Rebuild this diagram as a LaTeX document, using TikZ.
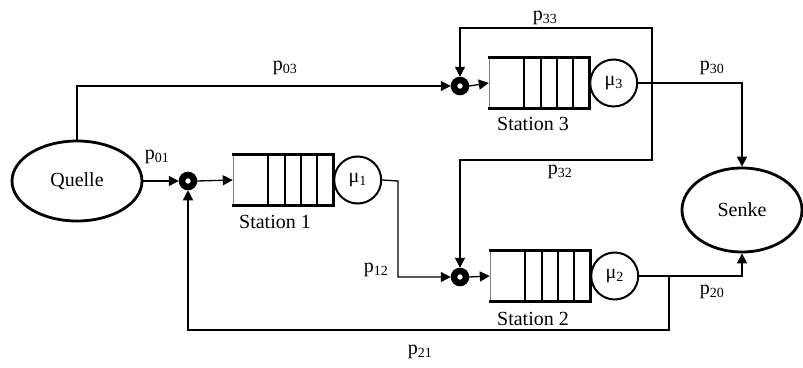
\documentclass[tikz,border=0pt]{standalone}
\usepackage{fontspec}
\setmainfont{Liberation Serif}
\usetikzlibrary{arrows.meta,calc,shapes.geometric}
\begin{document}
\begin{tikzpicture}[x=1pt,y=-1pt,
  every node/.style={font=\fontsize{20}{22}\selectfont},
  con/.style={line width=1.3pt},
  arr/.style={con,-{Triangle[length=10pt,width=10pt]}},
  junc/.style={circle,draw=black,line width=6.5pt,fill=white,minimum size=12pt,inner sep=0pt},
  queue/.style={rectangle,minimum width=100pt,minimum height=50pt,inner sep=0pt},
  server/.style={circle,draw,line width=2pt,minimum size=47pt,inner sep=0pt},
  lbl/.style={inner sep=1pt}
]
\useasboundingbox (0,0) rectangle (803,367);
% sources / sinks
\node[ellipse,draw,line width=2.8pt,minimum width=130pt,minimum height=80pt] (quelle) at (77,181) {Quelle};
\node[ellipse,draw,line width=2.8pt,minimum width=120pt,minimum height=84pt] (senke) at (742,210) {Senke};
% junctions
\node[junc] (j1) at (188,181) {};
\node[junc] (j2) at (460,277) {};
\node[junc] (j3) at (460,86) {};
% queues
\node[queue] (q1) at (283,180) {};
\node[queue] (q2) at (540,276) {};
\node[queue] (q3) at (539,83) {};
\foreach \q in {q1,q2,q3}{
  \draw[line width=0.6pt,gray] (\q.north west) -- (\q.south west);
  \draw[line width=3pt] ([xshift=-1pt]\q.north west) -- (\q.north east) -- (\q.south east) -- ([xshift=-1pt]\q.south west);
  \foreach \d in {16,32,48,65}{
    \draw[line width=1.8pt] ($(\q.north east)+(-\d,0)$) -- ($(\q.south east)+(-\d,0)$);
  }
}
% servers
\node[server,anchor=west] (s1) at (q1.east) {μ\textsubscript{1}};
\node[server,anchor=west] (s2) at (q2.east) {μ\textsubscript{2}};
\node[server,anchor=west] (s3) at (q3.east) {μ\textsubscript{3}};
% station labels
\node (st1) at (275,222) {Station 1};
\node (st2) at (533,319) {Station 2};
\node (st3) at (533,124) {Station 3};
% coordinates
\coordinate (c1) at (398,181);
\coordinate (c3) at (652,86);
\coordinate (c3top) at (652,28);
\coordinate (c3low) at (652,160);
\coordinate (c2) at (669,277);
\coordinate (c2low) at (669,330);
% connectors
\draw[arr] (quelle.east) -- (j1.west);
\draw[arr] (j1.east) -- (q1.west);
\draw[arr] (s1.east) -- (c1) |- (j2.west);
\draw[arr] (quelle.north) |- (j3.west);
\draw[arr] (j3.east) -- (q3.west);
\draw[arr] (j2.east) -- (q2.west);
\draw[arr] (s3.east) -| (senke.north);
\draw[arr] (c3) -- (c3top) -| (j3.north);
\draw[arr] (c3) -- (c3low) -| (j2.north);
\draw[arr] (s2.east) -| (senke.south);
\draw[arr] (c2) -- (c2low) -| (j1.south);
% probability labels
\node[lbl] (p03) at (285,68) {p\textsubscript{03}};
\node[lbl] (p01) at (157,157) {p\textsubscript{01}};
\node[lbl] (p33) at (545,18) {p\textsubscript{33}};
\node[lbl] (p30) at (712,68) {p\textsubscript{30}};
\node[lbl] (p32) at (560,172) {p\textsubscript{32}};
\node[lbl] (p12) at (376,270) {p\textsubscript{12}};
\node[lbl] (p20) at (712,292) {p\textsubscript{20}};
\node[lbl] (p21) at (420,352) {p\textsubscript{21}};
\end{tikzpicture}
\end{document}
